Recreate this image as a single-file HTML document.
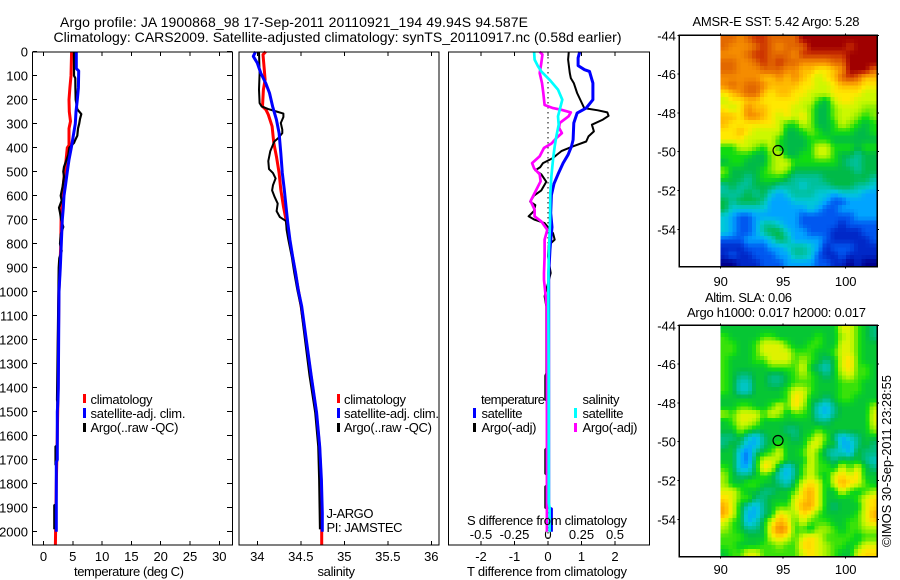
<!DOCTYPE html>
<html lang="en">
<head>
<meta charset="utf-8">
<title>Argo profile</title>
<style>
html,body{margin:0;padding:0;background:#fff;}
svg{display:block;}
text{font-family:"Liberation Sans",sans-serif;font-size:13px;fill:#000;}
</style>
</head>
<body>
<svg id="chart" xmlns="http://www.w3.org/2000/svg" width="900" height="580" viewBox="0 0 900 580">
<rect x="0" y="0" width="900" height="580" fill="#fff"></rect>
<text x="60" y="27" font-size="14" textLength="468" style="font-size:14px">Argo profile: JA 1900868_98 17-Sep-2011 20110921_194 49.94S 94.587E</text>
<text x="53.5" y="42" textLength="568" style="font-size:14px">Climatology: CARS2009. Satellite-adjusted climatology: synTS_20110917.nc (0.58d earlier)</text>
<g id="marks"></g>
<text x="74" y="576" textLength="110">temperature (deg C)</text>
<text x="317.5" y="576" textLength="37.5">salinity</text>
<text x="467" y="576" textLength="160">T difference from climatology</text>
<text x="467" y="525" textLength="160">S difference from climatology</text>
<rect x="83" y="394" width="3" height="9" fill="#ff0000"></rect>
<rect x="83" y="408" width="3" height="10" fill="#0000ff"></rect>
<rect x="83" y="423" width="3" height="9" fill="#000"></rect>
<text x="90.5" y="404" textLength="62">climatology</text>
<text x="90.5" y="418" textLength="95">satellite-adj. clim.</text>
<text x="90.5" y="432" textLength="88">Argo(..raw -QC)</text>
<rect x="337" y="394" width="3" height="9" fill="#ff0000"></rect>
<rect x="337" y="408" width="3" height="10" fill="#0000ff"></rect>
<rect x="337" y="423" width="3" height="9" fill="#000"></rect>
<text x="344" y="404" textLength="62">climatology</text>
<text x="344" y="418" textLength="95">satellite-adj. clim.</text>
<text x="344" y="432" textLength="88">Argo(..raw -QC)</text>
<text x="326.5" y="518" textLength="47">J-ARGO</text>
<text x="326.5" y="532" textLength="76">PI: JAMSTEC</text>
<text x="481" y="404" textLength="64">temperature</text>
<rect x="473" y="408" width="3" height="10" fill="#0000ff"></rect>
<rect x="473" y="423" width="3" height="9" fill="#000"></rect>
<text x="481.5" y="418" textLength="41">satellite</text>
<text x="481.5" y="432" textLength="55">Argo(-adj)</text>
<text x="582.5" y="404" textLength="37">salinity</text>
<rect x="574" y="408" width="3" height="10" fill="#00ffff"></rect>
<rect x="574" y="423" width="3" height="9" fill="#ff00ff"></rect>
<text x="582.5" y="418" textLength="41">satellite</text>
<text x="582.5" y="432" textLength="55">Argo(-adj)</text>
<text x="692.5" y="26" textLength="167">AMSR-E SST: 5.42 Argo: 5.28</text>
<text x="705" y="302" textLength="87">Altim. SLA: 0.06</text>
<text x="687" y="317" textLength="179">Argo h1000: 0.017 h2000: 0.017</text>
<text transform="translate(891,547) rotate(-90)" x="0" y="0" textLength="172">©IMOS 30-Sep-2011 23:28:55</text>
</svg>
<script>
// Depth axis
const depthTicks = [0,100,200,300,400,500,600,700,800,900,1000,1100,1200,1300,1400,1500,1600,1700,1800,1900,2000];
// Temperature panel
const tempTicks = [0,5,10,15,20,25,30];
const tempClimDepth = [0,100,150,200,250,290,320,390,400,450,500,550,600,700,800,900,1000,1200,1400,1600,1800,2054];
const tempClimValues = [4.8,4.7,4.5,4.35,4.4,4.6,4.35,4.35,4.06,3.85,3.6,3.4,3.2,3.0,2.95,2.8,2.62,2.55,2.5,2.36,2.19,2.03];
const tempSatDepth = [0,70,80,150,200,250,300,350,400,450,500,550,600,650,700,800,900,1000,1400,1450,1500,1700,1710,2000];
const tempSatValues = [5.6,5.6,6.0,5.95,5.77,5.55,5.43,5.09,4.75,4.35,4.06,3.79,3.5,3.38,3.2,3.04,2.87,2.65,2.53,2.47,2.36,2.36,2.19,2.19];
const tempArgoDepth = [0,100,110,150,200,240,260,280,300,320,350,370,380,400,430,460,480,500,520,560,600,620,650,670,700,730,760,800,830,860,900,1000,1450,1460,1640,1645,1720,1725,1885,1890,1990];
const tempArgoValues = [5.2,5.2,5.43,5.45,5.5,5.77,6.45,6.23,6.1,5.89,5.77,5.38,5.2,4.4,4.23,3.79,3.5,3.38,3.5,3.27,2.93,3.1,2.65,2.82,3.0,3.38,2.95,2.82,3.1,2.7,2.6,2.55,2.3,2.36,2.36,2.05,2.05,2.2,2.2,1.85,1.85];
// Salinity panel
const salTicks = [34,34.5,35,35.5,36];
const salTickLabels = ['34','34.5','35','35.5','36'];
const salClimDepth = [0,12,75,117,158,228,242,262,311,381,436,505,575,644,700,1061,1350,1500,1645,1783,1922,2054];
const salClimValues = [34.096,34.065,34.08,34.09,34.07,34.06,34.1,34.126,34.17,34.19,34.22,34.25,34.27,34.3,34.33,34.505,34.617,34.677,34.715,34.733,34.74,34.74];
const salSatDepth = [0,19,47,89,131,172,228,283,339,422,505,575,644,714,783,853,922,992,1061,1350,1504,1645,1783,1922,2000];
const salSatValues = [33.98,33.954,34.0,34.04,34.096,34.14,34.176,34.22,34.25,34.27,34.287,34.31,34.33,34.35,34.375,34.406,34.44,34.47,34.51,34.62,34.682,34.717,34.737,34.747,34.747];
const salArgoDepth = [0,89,158,214,228,239,249,258,272,297,325,339,360,374,414,456,489,506,528,556,578,606,633,664,689,706,742,783,853,922,992,1061,1350,1504,1645,1783,1990];
const salArgoValues = [34.02,34.027,34.02,34.027,34.05,34.126,34.22,34.3,34.3,34.27,34.287,34.287,34.24,34.195,34.15,34.126,34.134,34.18,34.21,34.18,34.17,34.2,34.234,34.222,34.26,34.33,34.337,34.356,34.395,34.425,34.46,34.5,34.6,34.665,34.7,34.71,34.72];
// Difference panel
const tDiffTicks = [-2,-1,0,1,2];
const sDiffLabelValues = [-0.5,-0.25,0,0.25,0.5];
const sDiffLabels = ['-0.5','-0.25','0','0.25','0.5'];
const tDiffSatDepth = [0,26,58,75,82,131,200,235,256,297,367,394,429,464,511,550,597,672,731,786,825,922,1061,1900,1905,2000];
const tDiffSatValues = [0.95,0.9,0.9,1.09,1.24,1.34,1.34,1.14,0.87,0.77,0.75,0.7,0.6,0.45,0.3,0.18,0.1,0.08,0.12,0.08,0.06,0.02,0.02,0.02,0.1,0.1];
const tDiffArgoDepth = [0,33,89,110,131,172,235,244,253,267,283,304,332,353,374,394,414,431,443,464,481,494,511,542,578,600,625,639,664,686,700,714,756,783,806,853,922,1019,1061,1340,1350,1450,1455,1650,1658,1758,1765,1805,1812,1900,1905,1990];
const tDiffArgoValues = [0.62,0.6,0.65,0.68,0.77,0.87,1.08,1.49,1.77,1.81,1.64,1.31,1.37,1.21,1.14,0.75,0.4,0.25,0.15,-0.15,-0.23,-0.38,-0.2,-0.05,-0.2,-0.42,-0.53,-0.38,-0.42,-0.58,-0.4,-0.1,0.15,0.2,0.02,0,0.08,-0.1,-0.05,-0.05,-0.08,-0.08,-0.03,-0.03,-0.08,-0.08,-0.03,-0.03,-0.08,-0.08,-0.03,-0.03];
const sDiffSatDepth = [0,33,61,82,117,158,200,242,269,304,354,394,450,519,589,714,853,922,1061,1350,1880,1900,2000];
const sDiffSatValues = [-0.104,-0.1,-0.075,-0.05,0.012,0.075,0.107,0.087,0.075,0.08,0.062,0.05,0.037,0.025,0.017,0.015,0.005,0.004,0.003,0.005,0.006,0.012,0.012];
const sDiffArgoDepth = [0,12,47,89,131,172,222,235,242,253,269,297,317,339,360,383,401,436,464,486,511,540,589,622,658,686,707,742,783,811,853,922,950,1061,1350,2000];
const sDiffArgoValues = [-0.062,-0.042,-0.05,-0.062,-0.045,-0.035,-0.025,0.037,0.1,0.17,0.154,0.087,0.082,0.104,0.062,0.025,-0.03,-0.062,-0.119,-0.104,-0.062,-0.055,-0.1,-0.13,-0.1,-0.1,-0.05,-0.005,-0.025,-0.025,-0.025,-0.03,-0.03,-0.01,-0.008,-0.008];
// Map axes
const lonTicks = [90,95,100];
const latTicks = [-44,-46,-48,-50,-52,-54];
const profileLon = [94.587];
const profileLat = [-49.94];
// SST map values, level index per cell
const sstGrid = [
[13,13,12,13,14,14,13,13,13,13,15,15,15,15,15,15,15,15,15,15],
[13,12,12,12,13,14,13,12,13,13,13,15,15,15,15,15,14,15,15,15],
[12,12,12,13,14,14,13,13,13,12,14,14,14,14,14,14,15,15,15,15],
[13,13,12,12,13,14,13,14,13,13,12,12,12,12,13,13,15,15,15,15],
[13,13,12,12,12,13,13,13,12,12,11,11,10,10,11,12,15,15,15,13],
[12,12,12,12,12,11,11,12,11,12,11,10,9,10,11,13,14,13,11,11],
[12,13,12,13,13,12,11,11,11,11,10,10,9,9,10,11,11,11,10,10],
[10,11,12,13,13,11,10,11,11,10,10,9,9,9,10,10,10,10,9,9],
[9,10,10,11,11,10,10,10,10,10,9,9,7,6,9,10,10,9,9,9],
[10,9,10,12,11,11,10,10,10,9,9,8,6,6,8,9,9,9,8,8],
[11,11,10,12,12,11,10,9,10,9,10,8,6,6,8,9,9,8,7,8],
[11,10,10,10,10,10,10,9,7,7,9,8,6,6,7,9,8,7,6,7],
[10,10,11,10,9,9,9,9,6,6,7,8,7,6,7,7,7,6,6,7],
[10,10,10,9,9,9,9,7,6,6,6,7,7,7,6,6,6,6,6,6],
[7,7,9,9,8,7,9,7,6,6,6,7,9,9,7,7,7,6,7,7],
[7,7,7,7,6,6,8,9,6,6,7,7,9,9,7,6,6,5,6,6],
[6,7,7,6,6,6,8,9,9,7,7,7,7,7,7,6,5,5,6,6],
[8,6,6,6,6,7,8,9,8,6,6,6,6,6,6,6,6,5,6,6],
[7,6,6,5,6,7,7,7,6,5,5,5,5,6,6,6,6,6,6,5],
[5,6,5,5,6,6,6,5,5,5,4,5,5,5,6,6,6,5,5,4],
[5,5,5,6,5,6,4,3,4,5,5,5,4,4,3,4,4,4,3,3],
[6,5,6,6,6,5,3,3,3,4,4,4,4,3,2,2,3,3,3,3],
[6,4,4,4,4,4,3,3,3,3,3,4,3,2,2,3,3,3,3,3],
[4,3,2,2,3,3,3,3,3,3,2,2,2,2,2,2,2,3,3,3],
[4,3,2,2,3,5,5,4,3,3,2,2,2,2,2,1,2,2,2,2],
[4,3,2,2,3,5,6,6,4,3,3,2,2,2,1,1,1,1,2,2],
[2,2,2,3,3,3,4,6,5,3,3,3,3,2,1,1,1,1,1,2],
[1,1,1,2,2,2,3,3,4,5,5,4,3,1,2,2,2,1,1,1],
[1,2,1,1,2,2,2,3,3,5,5,4,2,1,1,2,1,1,1,1],
[0,0,1,1,1,2,2,2,3,3,3,3,2,2,1,1,0,1,0,0]
];
// SLA map values, level index per cell
const slaGrid = [
[6,6,6,6,6,6,6,6,6,6,6,6,6,6,6,9,9,7,6,5],
[7,6,6,6,6,7,7,6,6,6,6,6,7,6,6,8,9,7,6,5],
[7,7,6,6,7,9,9,9,7,6,6,7,7,6,6,9,9,7,6,6],
[7,7,6,6,7,9,9,9,9,7,7,7,6,6,7,9,9,7,6,6],
[7,6,6,6,7,7,9,9,9,7,8,7,6,5,6,9,10,7,6,6],
[7,6,6,6,6,6,7,7,7,7,9,6,5,4,6,9,10,7,7,6],
[7,6,5,5,6,6,5,5,6,7,8,7,6,5,6,8,9,7,7,6],
[7,6,4,4,6,6,5,5,6,7,7,7,6,6,6,7,7,7,6,6],
[7,6,4,4,6,6,6,6,7,9,9,7,6,6,6,7,7,7,6,6],
[6,6,6,6,6,6,6,6,7,10,9,6,6,5,6,7,7,6,6,6],
[6,6,7,7,6,6,7,9,7,10,8,6,4,3,5,6,6,6,6,8],
[8,7,9,9,9,7,9,8,6,7,7,6,4,3,5,6,6,6,6,9],
[6,7,9,9,8,6,6,6,6,6,6,6,5,5,6,6,6,6,6,9],
[6,6,8,7,6,6,6,6,5,5,6,6,7,6,6,6,6,6,6,8],
[5,5,6,4,3,5,6,6,6,5,6,7,9,7,5,3,4,5,6,6],
[5,6,5,3,3,5,6,7,6,6,6,9,9,6,6,3,3,5,6,5],
[6,6,3,2,5,6,7,9,6,6,7,9,7,5,4,4,3,6,5,5],
[6,6,3,2,6,9,9,8,6,6,6,9,7,6,5,6,6,6,5,4],
[7,6,3,3,6,10,9,5,3,5,7,9,7,7,6,9,7,9,6,5],
[8,6,5,5,6,7,6,4,3,5,7,9,7,6,9,10,9,10,6,6],
[8,6,6,7,7,6,6,5,4,6,9,10,9,6,9,11,10,9,7,6],
[9,9,7,6,6,5,5,6,6,7,10,11,9,6,6,9,7,6,7,8],
[10,9,7,7,5,5,6,6,6,9,10,11,9,6,6,6,6,7,9,10],
[11,9,6,4,3,5,6,7,7,9,11,11,9,6,5,6,6,6,9,10],
[11,9,6,3,3,5,6,10,9,8,10,9,7,6,6,6,6,7,9,11],
[9,7,6,3,4,6,9,11,10,7,9,7,7,7,6,6,7,7,9,10],
[8,7,6,5,5,6,10,12,11,7,7,6,8,8,7,6,7,7,8,8],
[7,7,7,6,6,6,9,10,9,7,9,10,9,7,7,7,7,6,7,7],
[7,7,6,6,6,7,7,8,7,7,10,10,9,8,7,7,6,7,9,9],
[6,7,7,9,9,7,7,7,7,7,9,10,9,8,7,6,6,9,10,10]
];

const NS = 'http://www.w3.org/2000/svg';
const root = document.getElementById('marks');
const levelRgb = [[0,0,143],[0,40,200],[0,88,240],[0,164,255],[0,200,216],[0,192,156],[0,186,72],[16,220,16],[132,236,0],[204,248,0],[255,232,0],[255,188,0],[245,140,0],[226,104,0],[204,50,0],[160,0,0]];

// Axis functions
function yDepth(d){ return 51.7 + d * 0.24; }
function xTemp(t){ return 43.5 + t * 5.86; }
function xSal(s){ return 257.3 + (s - 34) * 87; }
function xTDiff(t){ return 548.0 + t * 33.5; }
function xSDiff(s){ return 548.0 + s * 134; }
function lonX(lon){ return 720.7 + (lon - 90) * 12.5; }
function latYSst(lat){ return 35.3 + (-44 - lat) * 19.4; }
function latYSla(lat){ return 325.3 + (-44 - lat) * 19.4; }

function el(tag, attrs, parent){
  const n = document.createElementNS(NS, tag);
  for (const k in attrs) n.setAttribute(k, attrs[k]);
  (parent || root).appendChild(n);
  return n;
}
function frame(x0, y0, x1, y1, name){
  const r = el('rect', {x:x0, y:y0, width:x1-x0, height:y1-y0, fill:'none', stroke:'#000', 'stroke-width':1.2, 'shape-rendering':'crispEdges'});
  
  
}
function tick(x1, y1, x2, y2, name){
  const l = el('line', {x1:x1, y1:y1, x2:x2, y2:y2, stroke:'#000', 'stroke-width':1, 'shape-rendering':'crispEdges'});
  
  
}
function label(x, y, str, anchor, name){
  const t = el('text', {x:x, y:y, 'text-anchor':anchor});
  t.textContent = str;
  
  
}
function series(depths, values, xFn, color, width, name){
  const pts = depths.map(function(d, i){ return xFn(values[i]).toFixed(1) + ',' + yDepth(d).toFixed(1); }).join(' ');
  const p = el('polyline', {points:pts, fill:'none', stroke:color, 'stroke-width':width, 'stroke-linejoin':'round'});
  
  
}
function levelColor(v){
  const t = Math.max(0, Math.min(15, v));
  const i = Math.min(14, Math.floor(t));
  const f = t - i;
  const a = levelRgb[i], b = levelRgb[i + 1];
  return 'rgb(' + Math.round(a[0] + (b[0] - a[0]) * f) + ',' + Math.round(a[1] + (b[1] - a[1]) * f) + ',' + Math.round(a[2] + (b[2] - a[2]) * f) + ')';
}
function sampleGrid(grid, fr, fc){
  const rows = grid.length, cols = grid[0].length;
  const r = Math.max(0, Math.min(rows - 1, fr));
  const c = Math.max(0, Math.min(cols - 1, fc));
  const r0 = Math.min(rows - 2, Math.floor(r)), c0 = Math.min(cols - 2, Math.floor(c));
  const dr = r - r0, dc = c - c0;
  return (grid[r0][c0] * (1 - dc) + grid[r0][c0 + 1] * dc) * (1 - dr) + (grid[r0 + 1][c0] * (1 - dc) + grid[r0 + 1][c0 + 1] * dc) * dr;
}

const plotTop = 52, plotBottom = 545;

// Temperature panel
depthTicks.forEach(function(d){
  tick(33, yDepth(d), 37, yDepth(d), 'depth-tick');
  tick(227, yDepth(d), 232, yDepth(d), 'depth-tick-right');
  label(28, yDepth(d) + 5, String(d), 'end', 'depth-tick-label');
});
tempTicks.forEach(function(t){
  tick(xTemp(t), plotTop, xTemp(t), plotTop + 4, 'temperature-tick-top');
  tick(xTemp(t), plotBottom - 4, xTemp(t), plotBottom, 'temperature-tick-bottom');
  label(xTemp(t), 561, String(t), 'middle', 'temperature-tick-label');
});
series(tempClimDepth, tempClimValues, xTemp, '#ff0000', 3, 'temperature-climatology-line');
series(tempArgoDepth, tempArgoValues, xTemp, '#000', 2.2, 'temperature-argo-line');
series(tempSatDepth, tempSatValues, xTemp, '#0000ff', 3, 'temperature-satellite-line');
frame(32.5, plotTop, 232.5, plotBottom, 'temperature-panel-frame');

// Salinity panel
salTicks.forEach(function(s, i){
  tick(xSal(s), plotTop, xSal(s), plotTop + 4, 'salinity-tick-top');
  tick(xSal(s), plotBottom - 4, xSal(s), plotBottom, 'salinity-tick-bottom');
  label(xSal(s), 561, salTickLabels[i], 'middle', 'salinity-tick-label');
});
series(salClimDepth, salClimValues, xSal, '#ff0000', 3, 'salinity-climatology-line');
series(salArgoDepth, salArgoValues, xSal, '#000', 2, 'salinity-argo-line');
series(salSatDepth, salSatValues, xSal, '#0000ff', 3, 'salinity-satellite-line');
frame(239, plotTop, 439, plotBottom, 'salinity-panel-frame');

// Difference panel
const zeroLine = el('line', {x1:xTDiff(0), y1:plotTop, x2:xTDiff(0), y2:plotBottom, stroke:'#000', 'stroke-width':1, 'stroke-dasharray':'1.5 3.5', 'shape-rendering':'crispEdges'});


tDiffTicks.forEach(function(t){
  tick(xTDiff(t), plotTop, xTDiff(t), plotTop + 4, 'difference-tick-top');
  tick(xTDiff(t), plotBottom - 4, xTDiff(t), plotBottom, 'difference-tick-bottom');
  label(xTDiff(t), 561, String(t), 'middle', 't-difference-tick-label');
});
sDiffLabelValues.forEach(function(s, i){
  label(xSDiff(s), 539, sDiffLabels[i], 'middle', 's-difference-tick-label');
});
series(tDiffArgoDepth, tDiffArgoValues, xTDiff, '#000', 2, 't-difference-argo-line');
series(tDiffSatDepth, tDiffSatValues, xTDiff, '#0000ff', 3, 't-difference-satellite-line');
series(sDiffArgoDepth, sDiffArgoValues, xSDiff, '#ff00ff', 2.7, 's-difference-argo-line');
series(sDiffSatDepth, sDiffSatValues, xSDiff, '#00ffff', 2.7, 's-difference-satellite-line');
frame(448.5, plotTop, 649.5, plotBottom, 'difference-panel-frame');

// Map panels: each data cell is drawn as 2x2 sub-cells, blended with its neighbours
function drawMap(grid, latFn, top, bottom, labelY, prefix, brighten){
  const cols = grid[0].length, rows = grid.length;
  const dLon = (102.53 - 90) / cols, dLat = (bottom - top) / 19.4 / rows;
  const sub = 2;
  for (let r = 0; r < rows * sub; r++) {
    for (let c = 0; c < cols * sub; c++) {
      const x0 = lonX(90 + c / sub * dLon), x1 = lonX(90 + (c + 1) / sub * dLon);
      const y0 = latFn(-44 - r / sub * dLat), y1 = latFn(-44 - (r + 1) / sub * dLat);
      const v = sampleGrid(grid, (r + 0.5) / sub - 0.5, (c + 0.5) / sub - 0.5) + brighten;
      const cell = el('rect', {x:x0.toFixed(2), y:y0.toFixed(2), width:(x1 - x0 + 0.5).toFixed(2), height:(y1 - y0 + 0.5).toFixed(2), fill:levelColor(v), 'shape-rendering':'crispEdges'});
      
      
    }
  }
  frame(679.3, top, 877.3, bottom, prefix + '-map-frame');
  lonTicks.forEach(function(lon){
    tick(lonX(lon), top - 2, lonX(lon), top, prefix + '-lon-tick-top');
    tick(lonX(lon), bottom, lonX(lon), bottom + 2, prefix + '-lon-tick-bottom');
    label(lonX(lon), labelY, String(lon), 'middle', prefix + '-lon-tick-label');
  });
  latTicks.forEach(function(lat){
    tick(677.5, latFn(lat), 679.3, latFn(lat), prefix + '-lat-tick-left');
    tick(877.3, latFn(lat), 879, latFn(lat), prefix + '-lat-tick-right');
    label(676, latFn(lat) + 5, String(lat), 'end', prefix + '-lat-tick-label');
  });
  const m = el('circle', {cx:lonX(profileLon[0]), cy:latFn(profileLat[0]), r:5, fill:'none', stroke:'#000', 'stroke-width':1.2});
  
  
}
drawMap(sstGrid, latYSst, 35.3, 266.7, 286, 'sst', 0);
drawMap(slaGrid, latYSla, 325.3, 556.7, 574, 'sla', 0.35);
</script>
</body>
</html>
